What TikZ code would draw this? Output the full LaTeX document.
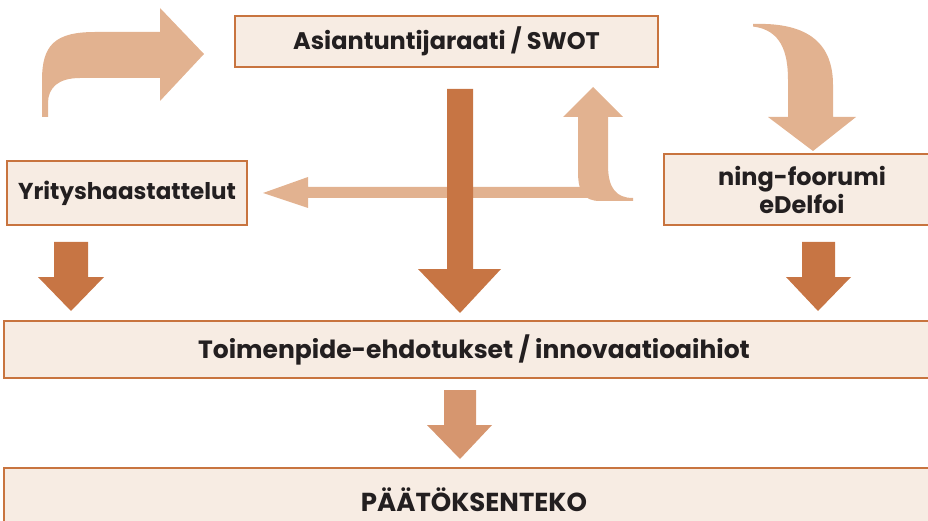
\documentclass[tikz,border=0pt]{standalone}
\usepackage{fontspec}
\setmainfont{Poppins}
\definecolor{boxfill}{HTML}{F7ECE3}
\definecolor{boxline}{HTML}{C8743F}
\definecolor{darkarrow}{HTML}{C77544}
\definecolor{lightarrow}{HTML}{E2B290}
\definecolor{midarrow}{HTML}{D6966F}
\definecolor{textcol}{HTML}{231F20}
\begin{document}
\begin{tikzpicture}[x=1pt, y=-1pt,
  box/.style={draw=boxline, fill=boxfill, line width=2pt, inner sep=0pt, text=textcol, align=center, font=\bfseries\fontsize{24}{28}\selectfont}]
\useasboundingbox (0,0) rectangle (928,521);
\clip (0,0) rectangle (928,521);
% light feedback arrows
\fill[lightarrow] (42,117) -- (42,80) .. controls (42,45) and (55,32) .. (95,32) -- (160,32) -- (160,8) -- (204,54) -- (160,101) -- (160,78) -- (80,78) .. controls (58,78) and (48,88) .. (48,103) -- (48,117) -- cycle;
\fill[lightarrow] (753,24) .. controls (810,22) and (833,45) .. (833,85) -- (833,117) -- (856,117) -- (813,151) -- (768,117) -- (788,117) -- (788,80) .. controls (788,52) and (781,30) .. (753,26.5) -- cycle;
\fill[lightarrow] (578,117) -- (563,117) -- (593,87) -- (623,117) -- (608,117) -- (608,165) .. controls (608,188) and (616,198) .. (633,198) -- (633,201) -- (600,201) .. controls (584,201) and (578,192) .. (578,172) -- cycle;
\fill[lightarrow] (595,187) -- (308,187) -- (308,177) -- (263,193) -- (308,208) -- (308,198) -- (595,198) -- cycle;
% boxes
\node[box, minimum width=423pt, minimum height=51pt] (swot) at (446.5,41.5) {Asiantuntijaraati / SWOT};
\node[box, minimum width=240pt, minimum height=64pt, font=\bfseries\fontsize{23}{28}\selectfont] (yritys) at (127,193) {Yrityshaastattelut};
\node[box, minimum width=276pt, minimum height=71pt] (ning) at (802,189.5) {ning-foorumi\\eDelfoi};
\node[box, minimum width=940pt, minimum height=57pt, font=\bfseries\fontsize{25}{28}\selectfont] (toimet) at (474,349.5) {Toimenpide-ehdotukset / innovaatioaihiot};
\node[box, minimum width=940pt, minimum height=64pt, font=\bfseries\fontsize{26}{28}\selectfont] (paatos) at (474,500) {PÄÄTÖKSENTEKO};
% main flow arrows
\fill[darkarrow] (54,242) -- (88,242) -- (88,277) -- (104,277) -- (71,311) -- (38,277) -- (54,277) -- cycle;
\fill[darkarrow] (447,89) -- (473,89) -- (473,269) -- (501,269) -- (460,313) -- (418,269) -- (447,269) -- cycle;
\fill[darkarrow] (802,242) -- (835,242) -- (835,277) -- (851,277) -- (818,311) -- (786,277) -- (802,277) -- cycle;
\fill[midarrow] (444,390) -- (476,390) -- (476,425) -- (492,425) -- (460,459) -- (427,425) -- (444,425) -- cycle;
\end{tikzpicture}
\end{document}
